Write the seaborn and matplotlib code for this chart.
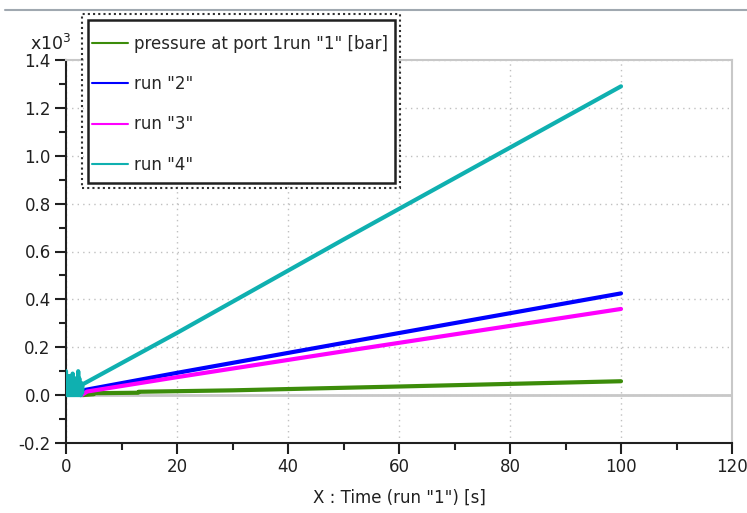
import matplotlib
matplotlib.use("Agg")
import matplotlib.pyplot as plt
import seaborn as sns
import pandas as pd
from matplotlib.patches import Rectangle
from matplotlib.lines import Line2D
from matplotlib.ticker import MultipleLocator

# values in units of x10^3 bar
t_run1 = [3.0, 5.0, 5.1, 13.0, 13.1, 30.0, 60.0, 100.0]
p_run1 = [0.0, 0.004, 0.008, 0.010, 0.014, 0.020, 0.036, 0.058]

t_run2 = [2.6, 3.5, 20.0, 50.0, 100.0]
p_run2 = [0.0, 0.022, 0.093, 0.218, 0.425]

t_run3 = [2.8, 3.8, 20.0, 50.0, 100.0]
p_run3 = [0.0, 0.015, 0.075, 0.183, 0.360]

t_run4 = [0.0, 0.1, 0.2, 0.3, 0.4, 0.5, 0.6, 0.7, 0.8, 0.9, 1.0, 1.1, 1.2,
          1.3, 1.4, 1.5, 1.6, 1.7, 1.8, 1.9, 2.0, 2.1, 2.2, 2.3, 2.4, 2.5,
          2.6, 2.7, 2.8, 2.9, 3.0, 20.0, 50.0, 100.0]
p_run4 = [0.10, 0.0, 0.08, 0.0, 0.07, 0.0, 0.08, 0.0, 0.07, 0.0, 0.07,
          0.0, 0.09, 0.0, 0.07, 0.0, 0.06, 0.0, 0.07, 0.0, 0.06, 0.0, 0.10,
          0.0, 0.07, 0.0, 0.05, 0.0, 0.05, 0.01, 0.045, 0.26, 0.65, 1.29]

labels = ['pressure at port 1run "1" [bar]', 'run "2"', 'run "3"', 'run "4"']
colors = ["#3c8c0a", "#0000ff", "#ff00ff", "#0fb0b0"]

sns.set_style("white")
plt.rcParams["font.family"] = ["DejaVu Sans"]

W, H = 747, 513
fig = plt.figure(figsize=(W / 100, H / 100), dpi=100)
ax = fig.add_axes([66 / W, 1 - 443 / H, 666 / W, 383 / H])

ax.axhline(0, color="#c8c8c8", lw=2, zorder=1)
series = [(t_run1, p_run1), (t_run2, p_run2), (t_run3, p_run3), (t_run4, p_run4)]
for (t, p), c in zip(series, colors):
    df = pd.DataFrame({"t": t, "p": p})
    sns.lineplot(data=df, x="t", y="p", color=c, lw=3, sort=False, ax=ax,
                 estimator=None, zorder=3)

ax.set_xlim(0, 120)
ax.set_ylim(-0.2, 1.4)
ax.xaxis.set_minor_locator(MultipleLocator(10))
ax.yaxis.set_minor_locator(MultipleLocator(0.1))
ax.set_xticks([0, 20, 40, 60, 80, 100, 120])
ax.set_xticklabels(["0", "20", "40", "60", "80", "100", "120"])
ax.set_yticks([-0.2, 0.0, 0.2, 0.4, 0.6, 0.8, 1.0, 1.2, 1.4])
ax.set_yticklabels(["-0.2", "0.0", "0.2", "0.4", "0.6", "0.8", "1.0", "1.2", "1.4"])
ax.grid(True, which="major", color="#c0c0c0", ls=(0, (1, 3)), lw=1)
ax.tick_params(which="major", direction="out", length=8, width=1.5,
               labelsize=12, colors="#202020", left=True, bottom=True, pad=3)
ax.tick_params(which="minor", direction="out", length=5, width=1.5,
               left=True, bottom=True, colors="#202020")
for s in ["left", "bottom"]:
    ax.spines[s].set_color("#202020")
    ax.spines[s].set_linewidth(1.5)
for s in ["top", "right"]:
    ax.spines[s].set_color("#c8c8c8")
    ax.spines[s].set_linewidth(1.5)
ax.set_xlabel('X : Time (run "1") [s]', fontsize=12, color="#202020", labelpad=9)
ax.set_ylabel("")

fig.text(30 / W, 1 - 50 / H, r"x10$^3$", fontsize=12.5, color="#202020")
fig.add_artist(Line2D([5 / W, 1.0], [1 - 10 / H, 1 - 10 / H], color="#a0a8b0", lw=1.5))

# legend frames drawn by hand: solid inner box, dotted outer box
fig.add_artist(Rectangle((88 / W, 1 - 183 / H), 307 / W, 163 / H,
                         transform=fig.transFigure, fill=False, lw=1.8,
                         color="#202020", zorder=5))
fig.add_artist(Rectangle((82 / W, 1 - 188 / H), 318 / W, 174 / H,
                         transform=fig.transFigure, fill=False,
                         ls=(0, (1, 1.5)), lw=1.5, color="#303030", zorder=5))
fig.add_artist(Rectangle((84 / W, 1 - 186 / H), 314 / W, 170 / H,
                         transform=fig.transFigure, fill=True, lw=0,
                         color="white", zorder=4))

handles = [Line2D([], [], color=c, lw=1.5) for c in colors]
leg = fig.legend(handles, labels, loc="upper left",
                 bbox_to_anchor=(92 / W, 1 - 35 / H), fontsize=12,
                 frameon=False, handlelength=2.15, borderpad=0,
                 borderaxespad=0, labelspacing=1.33, handletextpad=0.4)
leg.set_zorder(6)

fig.savefig("out.png", dpi=100)
